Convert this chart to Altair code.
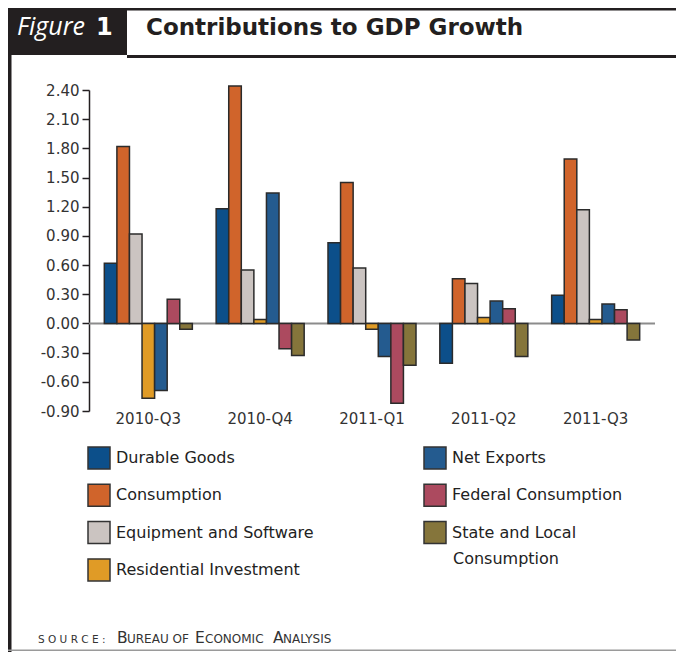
import altair as alt
import pandas as pd

quarters = ["2010-Q3", "2010-Q4", "2011-Q1", "2011-Q2", "2011-Q3"]
categories = [
    "Durable Goods",
    "Consumption",
    "Equipment and Software",
    "Residential Investment",
    "Net Exports",
    "Federal Consumption",
    "State and Local Consumption",
]
durable_goods = [0.62, 1.18, 0.83, -0.41, 0.29]
consumption = [1.82, 2.44, 1.45, 0.46, 1.69]
equipment_software = [0.92, 0.55, 0.57, 0.41, 1.17]
residential_investment = [-0.77, 0.04, -0.06, 0.06, 0.04]
net_exports = [-0.69, 1.34, -0.34, 0.23, 0.20]
federal_consumption = [0.25, -0.26, -0.82, 0.15, 0.14]
state_local_consumption = [-0.06, -0.33, -0.43, -0.34, -0.17]

colors = ["#0c4f8a", "#d0642b", "#cbc4c1", "#e09b26", "#245b8f", "#ac4a5f", "#85753b"]
y_ticks = [-0.90, -0.60, -0.30, 0.00, 0.30, 0.60, 0.90, 1.20, 1.50, 1.80, 2.10, 2.40]

series = [durable_goods, consumption, equipment_software, residential_investment,
          net_exports, federal_consumption, state_local_consumption]
rows = []
for cat, vals in zip(categories, series):
    for q, v in zip(quarters, vals):
        rows.append({"quarter": q, "category": cat, "value": v})
df = pd.DataFrame(rows)

FONT = "DejaVu Sans"
W, H = 566, 321
one = pd.DataFrame({"k": [0]})


def rect(x, x2, y, y2, color):
    return alt.Chart(one).mark_rect(color=color).encode(
        x=alt.value(x), x2=alt.value(x2), y=alt.value(y), y2=alt.value(y2))


def text(s, x, y, size, color="#333333", font=FONT, weight="normal", style="normal", baseline="alphabetic"):
    return alt.Chart(one).mark_text(
        text=s, align="left", baseline=baseline, font=font, fontSize=size,
        fontWeight=weight, fontStyle=style, color=color
    ).encode(x=alt.value(x), y=alt.value(y))


zero_line = alt.Chart(one).mark_rule(color="#8c8c8c", strokeWidth=2).encode(
    x=alt.value(0), x2=alt.value(W), y=alt.datum(0))

bars = alt.Chart(df).mark_bar(stroke="#2b2b2b", strokeWidth=1.5).encode(
    x=alt.X("quarter:N", sort=quarters,
            scale=alt.Scale(paddingInner=0.213, paddingOuter=0.137),
            axis=alt.Axis(title=None, labelAngle=0, domain=False, ticks=False,
                          labelPadding=0, labelFontSize=15, labelColor="#333333",
                          labelFont=FONT)),
    xOffset=alt.XOffset("category:N", sort=categories,
                        scale=alt.Scale(paddingInner=0, paddingOuter=0)),
    y=alt.Y("value:Q", scale=alt.Scale(domain=[-0.9, 2.4], nice=False),
            axis=alt.Axis(title=None, values=y_ticks, tickCount=len(y_ticks), grid=False,
                          labelOverlap=False,
                          labelExpr="(datum.value < 0 ? '-' : '') + format(abs(datum.value), '.2f')",
                          domainColor="#231f20", domainWidth=1.5, tickColor="#231f20",
                          tickWidth=1.5, tickSize=7, labelPadding=3, labelFontSize=15,
                          labelColor="#333333", labelFont=FONT)),
    color=alt.Color("category:N",
                    scale=alt.Scale(domain=categories, range=colors),
                    legend=alt.Legend(title=None, orient="none", legendX=-2, legendY=356,
                                      direction="vertical", columns=2, columnPadding=107,
                                      rowPadding=9.3, symbolType="square", symbolSize=484,
                                      symbolStrokeColor="#333333", symbolStrokeWidth=1.5,
                                      symbolOpacity=1, labelFontSize=16, labelFont=FONT,
                                      labelColor="#222222", labelOffset=5, labelLimit=400,
                                      padding=0,
                                      labelExpr="datum.label == 'State and Local Consumption' ? 'State and Local' : datum.label")),
)

decor = [
    rect(-81, 587, -82, -79.5, "#231f20"),   # top rule
    rect(-81, 38, -82, -35, "#231f20"),      # figure box
    rect(38, 587, -35, -32, "#231f20"),      # rule under title
    rect(-81, -77.5, -35, 562, "#231f20"),   # left rule
    rect(-81, 587, 559.5, 561, "#9a9a9a"),   # bottom rule
    text("Figure", -72, -55, 25, color="white", font="Open Sans", style="italic"),
    text("1", 7, -55, 24, color="white", weight="bold"),
    text("Contributions to GDP Growth", 57, -55, 23, color="#231f20", weight="bold"),
    text("Consumption", 364, 469, 16, color="#222222", baseline="middle"),
    text("S O U R C E :", -51, 553, 10.5),
    text("B", 28, 553, 15.5),
    text("UREAU OF", 38, 553, 12),
    text("E", 106, 553, 15.5),
    text("CONOMIC", 116, 553, 12),
    text("A", 184, 553, 15.5),
    text("NALYSIS", 194, 553, 12),
]

chart = alt.layer(zero_line, bars, *decor).properties(
    width=W, height=H,
    autosize=alt.AutoSizeParams(type="none"),
    padding={"left": 81, "top": 82, "right": 21, "bottom": 241},
    background="white",
).configure_view(stroke=None)

chart.save("out.html", embed_options={"renderer": "svg", "actions": False})
